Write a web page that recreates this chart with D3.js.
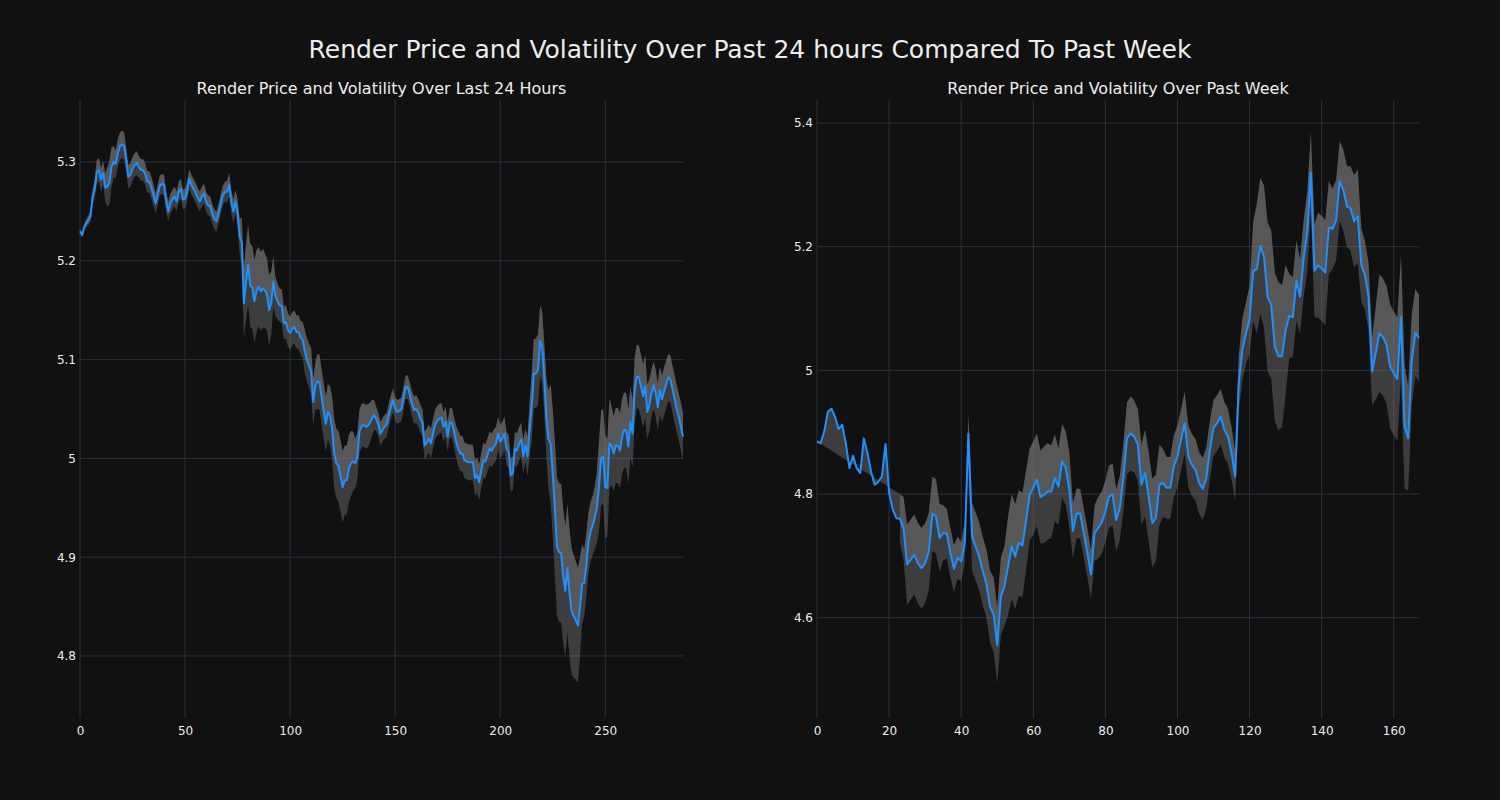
<!DOCTYPE html>
<html><head><meta charset="utf-8">
<script src="https://cdn.jsdelivr.net/npm/d3@7"></script>
<style>body{margin:0;background:#111111;}svg{display:block;}</style>
</head><body>
<svg id="chart" width="1500" height="800"></svg>
<script>
const suptitle = "Render Price and Volatility Over Past 24 hours Compared To Past Week";
const dayTitle = "Render Price and Volatility Over Last 24 Hours";
const weekTitle = "Render Price and Volatility Over Past Week";

const dayPrice = [
5.230,5.226,5.234,5.238,5.241,5.245,5.265,5.272,5.290,5.292,
5.282,5.289,5.274,5.275,5.279,5.295,5.300,5.298,5.309,5.316,
5.318,5.316,5.302,5.285,5.287,5.293,5.297,5.299,5.295,5.292,
5.292,5.288,5.280,5.280,5.274,5.266,5.258,5.267,5.276,5.278,
5.277,5.260,5.250,5.258,5.262,5.265,5.260,5.270,5.273,5.262,
5.263,5.270,5.283,5.277,5.273,5.269,5.264,5.260,5.265,5.268,
5.260,5.256,5.255,5.247,5.242,5.240,5.248,5.258,5.266,5.270,
5.270,5.277,5.260,5.250,5.260,5.248,5.225,5.218,5.157,5.178,
5.196,5.175,5.173,5.159,5.169,5.174,5.169,5.172,5.170,5.166,
5.150,5.157,5.179,5.164,5.159,5.155,5.154,5.137,5.138,5.130,
5.127,5.131,5.133,5.128,5.128,5.122,5.120,5.108,5.100,5.094,
5.088,5.057,5.073,5.078,5.077,5.062,5.048,5.035,5.047,5.043,
5.030,5.005,4.995,4.992,4.982,4.971,4.978,4.978,4.990,4.995,
4.997,4.995,5.002,5.027,5.033,5.034,5.032,5.033,5.036,5.041,
5.044,5.040,5.034,5.025,5.029,5.032,5.034,5.044,5.052,5.059,
5.050,5.047,5.048,5.050,5.061,5.072,5.072,5.064,5.055,5.049,
5.050,5.046,5.040,5.036,5.013,5.016,5.020,5.015,5.025,5.034,
5.038,5.040,5.041,5.032,5.037,5.022,5.036,5.036,5.027,5.017,
5.010,5.005,5.005,4.998,4.997,4.996,4.996,4.996,4.980,4.983,
4.976,4.988,4.998,4.997,5.004,5.010,5.008,5.012,5.015,5.025,
5.017,5.020,5.025,5.010,5.007,4.983,4.985,5.010,5.008,5.015,
5.019,5.002,5.013,5.002,5.030,5.052,5.086,5.086,5.090,5.119,
5.112,5.080,5.040,5.019,5.015,4.985,4.950,4.911,4.905,4.904,
4.880,4.866,4.889,4.863,4.845,4.840,4.836,4.831,4.850,4.873,
4.874,4.892,4.915,4.926,4.932,4.940,4.950,4.971,5.000,5.002,
4.971,4.970,5.015,5.013,5.005,5.013,5.013,5.008,5.022,5.029,
5.028,5.012,5.037,5.025,5.069,5.083,5.082,5.073,5.063,5.073,
5.047,5.054,5.066,5.074,5.066,5.052,5.069,5.060,5.068,5.075,
5.082,5.080,5.070,5.060,5.050,5.042,5.032,5.022
];
const dayVol = [
0.002,0.002,0.003,0.004,0.005,0.006,0.008,0.010,0.012,0.012,
0.012,0.012,0.014,0.020,0.022,0.020,0.016,0.014,0.014,0.014,
0.014,0.014,0.012,0.012,0.012,0.012,0.012,0.012,0.011,0.011,
0.011,0.011,0.011,0.011,0.011,0.011,0.010,0.010,0.010,0.010,
0.010,0.010,0.010,0.010,0.010,0.010,0.010,0.010,0.010,0.010,
0.010,0.010,0.010,0.010,0.010,0.010,0.010,0.010,0.010,0.010,
0.010,0.010,0.010,0.010,0.010,0.010,0.010,0.010,0.010,0.010,
0.011,0.012,0.012,0.012,0.012,0.014,0.018,0.025,0.035,0.038,
0.040,0.042,0.042,0.042,0.042,0.040,0.040,0.040,0.038,0.036,
0.036,0.032,0.025,0.020,0.018,0.017,0.017,0.017,0.017,0.017,
0.017,0.017,0.017,0.017,0.017,0.017,0.018,0.022,0.022,0.022,
0.024,0.024,0.024,0.028,0.028,0.028,0.028,0.028,0.028,0.030,
0.032,0.035,0.035,0.036,0.036,0.036,0.035,0.035,0.034,0.033,
0.030,0.025,0.024,0.022,0.022,0.022,0.022,0.022,0.020,0.018,
0.015,0.012,0.012,0.012,0.012,0.012,0.012,0.012,0.012,0.012,
0.012,0.012,0.012,0.012,0.012,0.012,0.012,0.012,0.013,0.014,
0.014,0.014,0.014,0.014,0.014,0.014,0.014,0.015,0.015,0.015,
0.015,0.015,0.015,0.015,0.015,0.015,0.015,0.015,0.015,0.016,
0.018,0.018,0.018,0.018,0.018,0.018,0.018,0.018,0.018,0.018,
0.018,0.018,0.018,0.017,0.017,0.017,0.017,0.017,0.017,0.017,
0.017,0.017,0.017,0.017,0.017,0.017,0.017,0.017,0.017,0.017,
0.017,0.017,0.017,0.020,0.028,0.035,0.035,0.035,0.036,0.036,
0.036,0.036,0.040,0.050,0.060,0.065,0.068,0.070,0.070,0.070,
0.068,0.066,0.065,0.065,0.064,0.062,0.060,0.058,0.050,0.040,
0.034,0.032,0.030,0.030,0.030,0.032,0.036,0.045,0.048,0.048,
0.052,0.050,0.045,0.040,0.038,0.038,0.038,0.038,0.038,0.038,
0.038,0.038,0.036,0.034,0.033,0.032,0.032,0.032,0.032,0.032,
0.028,0.026,0.024,0.024,0.024,0.024,0.024,0.024,0.024,0.024,
0.024,0.024,0.024,0.024,0.024,0.024,0.024,0.024
];
const weekPrice = [
4.885,4.882,4.901,4.933,4.938,4.925,4.905,4.912,4.882,4.842,
4.862,4.842,4.834,4.890,4.866,4.836,4.815,4.820,4.828,4.881,
4.802,4.775,4.761,4.760,4.745,4.686,4.694,4.702,4.688,4.680,
4.688,4.707,4.768,4.764,4.729,4.737,4.736,4.705,4.679,4.697,
4.691,4.721,4.898,4.731,4.715,4.699,4.675,4.655,4.618,4.605,
4.556,4.634,4.651,4.683,4.715,4.699,4.721,4.717,4.758,4.799,
4.810,4.823,4.795,4.799,4.804,4.804,4.826,4.812,4.853,4.842,
4.807,4.740,4.769,4.768,4.737,4.705,4.670,4.737,4.745,4.754,
4.772,4.796,4.799,4.758,4.777,4.828,4.890,4.898,4.893,4.880,
4.815,4.834,4.796,4.753,4.761,4.815,4.818,4.810,4.810,4.845,
4.861,4.888,4.915,4.861,4.847,4.839,4.818,4.808,4.826,4.872,
4.907,4.915,4.925,4.904,4.893,4.866,4.828,4.979,5.033,5.060,
5.082,5.160,5.164,5.201,5.184,5.119,5.106,5.038,5.023,5.023,
5.065,5.088,5.086,5.145,5.119,5.181,5.224,5.320,5.161,5.170,
5.165,5.158,5.231,5.229,5.243,5.306,5.292,5.265,5.262,5.241,
5.249,5.170,5.154,5.119,4.998,5.028,5.060,5.054,5.041,5.006,
4.995,4.986,5.086,4.909,4.890,5.017,5.061,5.052
];
const weekVol = [
null,null,null,null,null,null,null,null,null,null,
null,null,null,null,null,null,null,null,null,null,
null,null,null,0.040,0.050,0.065,0.065,0.065,0.065,0.065,
0.065,0.062,0.060,0.060,0.055,0.045,0.040,0.040,0.038,0.034,
0.032,0.032,0.030,0.055,0.055,0.055,0.055,0.055,0.058,0.060,
0.062,0.062,0.065,0.080,0.085,0.085,0.085,0.085,0.080,0.075,
0.075,0.075,0.075,0.078,0.078,0.075,0.070,0.062,0.060,0.060,
0.060,0.045,0.040,0.040,0.040,0.040,0.040,0.045,0.050,0.050,
0.050,0.050,0.050,0.050,0.052,0.055,0.058,0.060,0.058,0.058,
0.065,0.070,0.072,0.072,0.070,0.065,0.055,0.050,0.050,0.050,
0.050,0.050,0.050,0.050,0.050,0.050,0.050,0.050,0.050,0.047,
0.045,0.045,0.045,0.045,0.045,0.042,0.040,0.045,0.050,0.050,
0.055,0.080,0.105,0.110,0.115,0.120,0.120,0.120,0.120,0.115,
0.105,0.068,0.065,0.065,0.060,0.062,0.065,0.065,0.075,0.085,
0.085,0.085,0.075,0.065,0.065,0.065,0.065,0.065,0.068,0.075,
0.075,0.060,0.055,0.055,0.055,0.075,0.095,0.095,0.095,0.100,
0.100,0.100,0.100,0.100,0.085,0.075,0.070,0.070
];

const dayXTicks = [0, 50, 100, 150, 200, 250];
const dayYTicks = [4.8, 4.9, 5.0, 5.1, 5.2, 5.3];
const weekXTicks = [0, 20, 40, 60, 80, 100, 120, 140, 160];
const weekYTicks = [4.6, 4.8, 5.0, 5.2, 5.4];

const svg = d3.select("#chart");
svg.append("rect").attr("width", 1500).attr("height", 800).attr("fill", "#111111");
const FONT = "DejaVu Sans, sans-serif";
const TXT = "#ededed";
const GRID = "#2b3240";

svg.append("text").attr("x", 750).attr("y", 58).attr("text-anchor", "middle")
  .attr("font-family", FONT).attr("font-size", 25).attr("fill", TXT).text(suptitle);

function panel(cfg) {
  const {left, right, top, bottom, price, vol, xDomain, yDomain, xTicks, yTicks, title} = cfg;
  const x = d3.scaleLinear().domain(xDomain).range([left, right]);
  const y = d3.scaleLinear().domain(yDomain).range([bottom, top]);
  const g = svg.append("g");
  const fmt = v => String(+v.toFixed(2));

  g.append("g").selectAll("line").data(yTicks).join("line")
    .attr("x1", left).attr("x2", right).attr("y1", d => y(d)).attr("y2", d => y(d))
    .attr("stroke", GRID).attr("stroke-width", 1);
  g.append("g").selectAll("line").data(xTicks).join("line")
    .attr("x1", d => x(d)).attr("x2", d => x(d)).attr("y1", top).attr("y2", bottom)
    .attr("stroke", GRID).attr("stroke-width", 1);

  const ax = g.append("g").attr("transform", `translate(0,${bottom})`)
    .call(d3.axisBottom(x).tickValues(xTicks).tickFormat(fmt).tickSize(0).tickPadding(8));
  const ay = g.append("g").attr("transform", `translate(${left},0)`)
    .call(d3.axisLeft(y).tickValues(yTicks).tickFormat(fmt).tickSize(0).tickPadding(4));
  [ax, ay].forEach(a => {
    a.select(".domain").remove();
    a.selectAll("text").attr("fill", TXT).attr("font-family", FONT).attr("font-size", 12);
  });

  const pts = price.map((p, i) => ({i, p, v: vol[i]}));
  const def = pts.filter(d => d.v != null);

  const area = d3.area().x(d => x(d.i)).y0(d => y(d.p - d.v)).y1(d => y(d.p + d.v));
  g.append("path").attr("d", area(def)).attr("fill", "#808080").attr("fill-opacity", 0.4);

  const poly = pts.map(d => [x(d.i), y(d.p)])
    .concat(def.slice().reverse().map(d => [x(d.i), y(d.p + d.v)]));
  g.append("path").attr("d", d3.line()(poly) + "Z").attr("fill", "#808080").attr("fill-opacity", 0.4);

  const line = d3.line().x(d => x(d.i)).y(d => y(d.p));
  g.append("path").attr("d", line(pts)).attr("fill", "none")
    .attr("stroke", "#1e90ff").attr("stroke-width", 2).attr("stroke-linejoin", "round");

  g.append("text").attr("x", (left + right) / 2).attr("y", top - 6).attr("text-anchor", "middle")
    .attr("font-family", FONT).attr("font-size", 16).attr("fill", TXT).text(title);
}

panel({left: 80, right: 683, top: 100, bottom: 718, price: dayPrice, vol: dayVol,
  xDomain: [0, dayPrice.length - 1], yDomain: [4.7372, 5.3628],
  xTicks: dayXTicks, yTicks: dayYTicks, title: dayTitle});
panel({left: 817, right: 1419, top: 100, bottom: 718, price: weekPrice, vol: weekVol,
  xDomain: [0, weekPrice.length - 1], yDomain: [4.4378, 5.4372],
  xTicks: weekXTicks, yTicks: weekYTicks, title: weekTitle});
</script>
</body></html>
